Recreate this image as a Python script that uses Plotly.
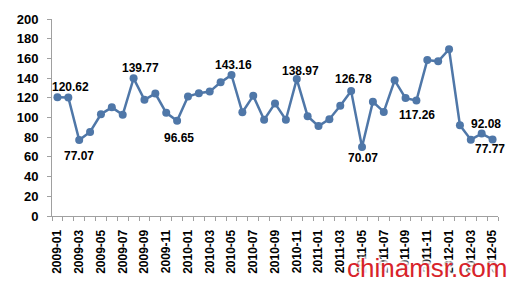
import plotly.graph_objects as go

months = ["2009-01","2009-02","2009-03","2009-04","2009-05","2009-06","2009-07","2009-08","2009-09","2009-10","2009-11","2009-12",
          "2010-01","2010-02","2010-03","2010-04","2010-05","2010-06","2010-07","2010-08","2010-09","2010-10","2010-11","2010-12",
          "2011-01","2011-02","2011-03","2011-04","2011-05","2011-06","2011-07","2011-08","2011-09","2011-10","2011-11","2011-12",
          "2012-01","2012-02","2012-03","2012-04","2012-05"]
values = [120.62, 120.3, 77.07, 85.3, 103.3, 110.3, 102.7, 139.77, 118.0, 124.3, 104.7, 96.65,
          121.3, 124.7, 126.3, 135.7, 143.16, 105.3, 122.0, 97.7, 114.3, 97.7, 138.97, 101.3,
          91.3, 98.3, 112.0, 126.78, 70.07, 116.0, 105.7, 137.7, 119.7, 117.26, 158.3, 157.0,
          169.3, 92.08, 77.5, 83.7, 77.77]
tick_labels = months[::2]
y_ticks = [0, 20, 40, 60, 80, 100, 120, 140, 160, 180, 200]

# labelled points: (month, text, xshift, yshift)
labelled = [("2009-01", "120.62", 13, 10), ("2009-03", "77.07", 0, -16), ("2009-08", "139.77", 7, 10),
            ("2009-12", "96.65", 2, -17), ("2010-05", "143.16", 2, 10), ("2010-11", "138.97", 4, 8),
            ("2011-04", "126.78", 2, 12), ("2011-05", "70.07", 1, -11), ("2011-10", "117.26", 1, -14),
            ("2012-02", "92.08", 26, 1), ("2012-05", "77.77", -3, -10)]

idx = list(range(len(months)))
fig = go.Figure()
fig.add_trace(go.Scatter(x=idx, y=values, mode="lines+markers",
                         line=dict(color="#4F77A8", width=2.5),
                         marker=dict(size=8, color="#4F77A8"),
                         hoverinfo="skip", showlegend=False))

for m, t, dx, dy in labelled:
    i = months.index(m)
    fig.add_annotation(x=i, y=values[i], text=t, showarrow=False, xshift=dx, yshift=dy,
                       font=dict(family="Liberation Sans, Arial", size=12, color="#000000", weight="bold"))

fig.add_annotation(x=1, y=0, xref="paper", yref="paper", xanchor="right", yanchor="bottom",
                   text="chinamsr.com", showarrow=False, xshift=11, yshift=-69,
                   font=dict(family="Liberation Sans, Arial", size=26, color="#D8232A",
                             shadow="2px 2px 2px white, -2px -2px 2px white, 2px -2px 2px white, -2px 2px 2px white"))

fig.update_layout(
    width=515, height=290,
    margin=dict(l=52, r=17, t=16, b=74),
    plot_bgcolor="white", paper_bgcolor="white",
    xaxis=dict(range=[-0.5, len(months) - 0.5], tickmode="array",
               tickvals=idx[::2], ticktext=tick_labels, tickangle=-90,
               showgrid=False, zeroline=False, showline=True, linecolor="#A0A0A0", linewidth=1,
               ticks="", ticklabelstandoff=8,
               tickfont=dict(family="Liberation Sans, Arial", size=12, color="#000000", weight="bold"),
               fixedrange=True),
    yaxis=dict(range=[0, 200], tickmode="array", tickvals=y_ticks,
               showgrid=False, zeroline=False, showline=True, linecolor="#A0A0A0", linewidth=1,
               ticks="outside", ticklen=4, tickcolor="#A0A0A0", ticklabelstandoff=6,
               tickfont=dict(family="Liberation Sans, Arial", size=13, color="#000000", weight="bold"),
               fixedrange=True),
)

# minor ticks at category boundaries on x axis
fig.update_xaxes(minor=dict(tickmode="array", tickvals=[i - 0.5 for i in range(len(months) + 1)],
                            ticks="outside", ticklen=4, tickcolor="#A0A0A0"))

fig.write_html("out.html")
